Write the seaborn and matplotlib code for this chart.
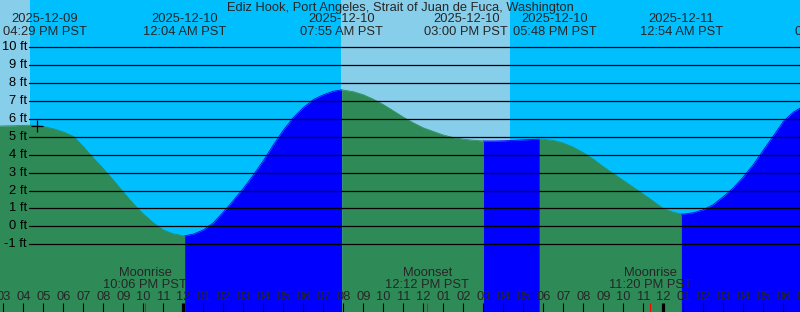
import matplotlib
matplotlib.use("Agg")
import matplotlib.pyplot as plt
import matplotlib.transforms as mtransforms
import numpy as np
import pandas as pd
import seaborn as sns

# ---------------- data (hours since 2025-12-09 00:00 PST) ----------------
title = "Ediz Hook, Port Angeles, Strait of Juan de Fuca, Washington"

tide_t = [14.833, 15, 15.5, 16, 16.483, 17, 17.5, 18, 18.5, 19, 19.5, 20,
          20.5, 21, 21.5, 22, 22.5, 23, 23.5, 24, 24.067, 24.5, 25, 25.5, 26,
          26.5, 27, 27.5, 28, 28.5, 29, 29.5, 30, 30.5, 31, 31.5, 31.917, 32,
          32.5, 33, 33.5, 34, 34.5, 35, 35.5, 36, 36.5, 37, 37.5, 38, 38.5,
          39, 39.5, 40, 40.5, 41, 41.5, 41.8, 42, 42.5, 43, 43.5, 44, 44.5,
          45, 45.5, 46, 46.5, 47, 47.5, 48, 48.5, 48.9, 49, 49.5, 50, 50.5,
          51, 51.5, 52, 52.5, 53, 53.5, 54, 54.5, 54.833]
tide_h = [5.60, 5.61, 5.62, 5.64, 5.65, 5.58, 5.45, 5.27, 5.03, 4.45, 3.82,
          3.22, 2.58, 1.91, 1.26, 0.69, 0.20, -0.20, -0.42, -0.52, -0.53,
          -0.43, -0.20, 0.20, 0.80, 1.45, 2.12, 2.87, 3.67, 4.55, 5.37, 6.08,
          6.63, 7.08, 7.35, 7.55, 7.62, 7.61, 7.52, 7.35, 7.10, 6.80, 6.45,
          6.10, 5.78, 5.50, 5.30, 5.10, 4.96, 4.87, 4.81, 4.77, 4.77, 4.78,
          4.80, 4.83, 4.86, 4.87, 4.87, 4.80, 4.65, 4.42, 4.12, 3.75, 3.33,
          2.95, 2.56, 2.18, 1.80, 1.40, 1.00, 0.79, 0.69, 0.69, 0.76, 0.93,
          1.22, 1.66, 2.15, 2.77, 3.45, 4.26, 5.05, 5.86, 6.38, 6.60]

# tide extrema (high / low) shown along the top
event_t = [16.483, 24.067, 31.917, 39.0, 41.8, 48.9, 56.63]
event_date = ["2025-12-09", "2025-12-10", "2025-12-10", "2025-12-10",
              "2025-12-10", "2025-12-11", "2025-12-11"]
event_clock = ["04:29 PM PST", "12:04 AM PST", "07:55 AM PST", "03:00 PM PST",
               "05:48 PM PST", "12:54 AM PST", "08:38 AM PST"]

# times where the fill colour (flood / ebb) changes
fill_breaks = [24.067, 31.917, 39.0, 41.8, 48.9]

# moon events shown along the bottom
moon_t = [22.1, 36.2, 47.333]
moon_name = ["Moonrise", "Moonset", "Moonrise"]
moon_clock = ["10:06 PM PST", "12:12 PM PST", "11:20 PM PST"]

# daylight intervals
day_start = [14.833, 31.9]
day_end = [16.333, 40.333]

# current-time marker
now_t = 16.708
now_h = 5.63

ft_levels = list(range(-1, 11))
hours = list(range(15, 57))

# ---------------- layout ----------------
W, H = 800, 312
x0 = 14.833
x1 = x0 + 40.0
PX_PER_FT = 17.91
ZERO_Y = 226.4
ybot = (ZERO_Y - H) / PX_PER_FT
ytop = ZERO_Y / PX_PER_FT
label_shift_px = [11.5, 0, 0, -17, 15, 0, 0]

SKY_DAY = "#87CEEB"
SKY_NIGHT = "#00BFFF"
FALL = "#2E8B57"
RISE = "#0000FF"

sns.set_style("white")
plt.rcParams["font.family"] = ["Liberation Sans", "DejaVu Sans"]
FS = 9.3

fig = plt.figure(figsize=(W / 100, H / 100), dpi=100, facecolor=SKY_DAY)
ax = fig.add_axes([0, 0, 1, 1])
ax.set_xlim(x0, x1)
ax.set_ylim(ybot, ytop)
ax.axis("off")
bt = mtransforms.blended_transform_factory(ax.transData, ax.transAxes)
def yf(px):
    return 1 - px / H
def dx(px):
    return px / 20.0

# background sky
ax.axvspan(x0 - 1, x1 + 1, color=SKY_NIGHT, lw=0, zorder=0,
           antialiased=False)
for a, b in zip(day_start, day_end):
    a_draw = a - 1 if a <= x0 else a
    ax.axvspan(a_draw, b, color=SKY_DAY, lw=0, zorder=0.5,
               antialiased=False)

# tide segments between colour changes
t = np.array(tide_t)
h = np.array(tide_h)
bounds = [x0] + fill_breaks + [x1]
rows = []
for i, (a, b) in enumerate(zip(bounds[:-1], bounds[1:])):
    m = (t >= a - 1e-6) & (t <= b + 1e-6)
    ts, hs = t[m], h[m]
    d = "rising" if hs[-1] > hs[0] else "falling"
    ts_draw = ts.copy()
    if i == 0:
        ts_draw[0] = x0 - 1
    ax.fill_between(ts_draw, hs, ybot - 1, color=RISE if d == "rising" else FALL,
                    lw=0, zorder=1, antialiased=False)
    for tt, hh in zip(ts, hs):
        rows.append({"t": tt, "h": hh, "seg": i, "dir": d})
df = pd.DataFrame(rows)
sns.lineplot(data=df, x="t", y="h", hue="dir", units="seg", estimator=None,
             palette={"rising": RISE, "falling": FALL}, lw=0.6, legend=False,
             sort=False, ax=ax, zorder=1.5)

# horizontal ft lines and labels
for lv in ft_levels:
    ax.plot([x0 + dx(29), x1], [lv, lv], color="black", lw=0.9, zorder=2)
    ax.text(x0 + dx(27), lv, f"{lv} ft", ha="right", va="center",
            fontsize=FS, color="black", zorder=3)

# now marker
ax.plot([now_t], [now_h], marker="+", ms=8, mew=0.9, color="black", zorder=3)

# title
fig.text(0.5, yf(8), title, ha="center", va="center", fontsize=FS)

# tide event labels
for et, dd, cc, sh in zip(event_t, event_date, event_clock, label_shift_px):
    xc = et + dx(sh)
    ax.text(xc, yf(19.5), dd, transform=bt, ha="center", va="center",
            fontsize=FS, clip_on=False)
    ax.text(xc, yf(32), cc, transform=bt, ha="center", va="center",
            fontsize=FS, clip_on=False)

# hour ticks and labels
for hr in hours:
    lab = hr % 12
    lab = 12 if lab == 0 else lab
    ax.text(hr, yf(297.5), f"{lab:02d}", transform=bt, ha="center",
            va="center", fontsize=FS, clip_on=False, zorder=3)
    lw = 2.3 if hr % 24 == 0 else 0.8
    ax.plot([hr, hr], [yf(303), yf(312)], transform=bt, color="black",
            lw=lw, solid_capstyle="butt", zorder=3)

# moon events
for mt, mn, mc in zip(moon_t, moon_name, moon_clock):
    ax.text(mt, yf(273), mn, transform=bt, ha="center", va="center",
            fontsize=FS, zorder=3)
    ax.text(mt, yf(285.5), mc, transform=bt, ha="center", va="center",
            fontsize=FS, zorder=3)
    ax.plot([mt, mt], [yf(303), yf(312)], transform=bt, color="red",
            lw=0.8, solid_capstyle="butt", zorder=3)

fig.savefig("out.png", dpi=100, facecolor=SKY_DAY)
